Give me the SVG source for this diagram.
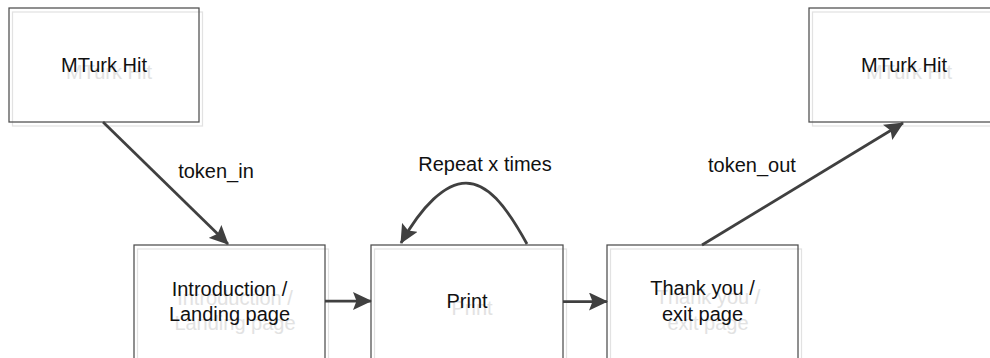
<svg xmlns="http://www.w3.org/2000/svg" width="990" height="358" viewBox="0 0 990 358">
  <style>
    .box { fill: none; stroke: #4d4d4d; stroke-width: 1.25; }
    .shadow { fill: none; stroke: #e2e2e2; stroke-width: 1.25; }
    .label { font-family: "Liberation Sans", Arial, sans-serif; font-size: 20px; fill: #111111; text-anchor: middle; }
    .ghost { font-family: "Liberation Sans", Arial, sans-serif; font-size: 20px; fill: #e2e2e2; text-anchor: middle; }
    .edge { fill: none; stroke: #404040; stroke-width: 2.75; }
  </style>
  <defs>
    <marker id="arrow" markerUnits="userSpaceOnUse" markerWidth="19" markerHeight="18" viewBox="0 0 19 18" refX="18" refY="9" orient="auto">
      <path d="M0,0 L19,9 L0,18 L3.5,9 Z" fill="#404040"/>
    </marker>
  </defs>

  <rect width="990" height="358" fill="#ffffff"/>

  <!-- each node: pale offset frame + frame, pale offset caption + caption -->
  <g id="mturk-hit-in">
    <rect class="shadow" x="12.5" y="12" width="190" height="114"/>
    <rect class="box" x="9" y="8" width="190" height="114"/>
    <text class="ghost" x="109" y="79">MTurk Hit</text>
    <text class="label" x="104" y="72">MTurk Hit</text>
  </g>

  <g id="mturk-hit-out">
    <rect class="shadow" x="812.5" y="12" width="190" height="114"/>
    <rect class="box" x="809" y="8" width="190" height="114"/>
    <text class="ghost" x="909" y="79">MTurk Hit</text>
    <text class="label" x="904" y="72">MTurk Hit</text>
  </g>

  <g id="landing">
    <rect class="shadow" x="137.5" y="249" width="191" height="120"/>
    <rect class="box" x="134" y="245" width="191" height="120"/>
    <text class="ghost" x="235" y="305">Introduction /</text>
    <text class="ghost" x="235" y="330">Landing page</text>
    <text class="label" x="229.5" y="296">Introduction /</text>
    <text class="label" x="229.5" y="321">Landing page</text>
  </g>

  <g id="print">
    <rect class="shadow" x="374.5" y="249" width="192" height="120"/>
    <rect class="box" x="371" y="245" width="192" height="120"/>
    <text class="ghost" x="472" y="315">Print</text>
    <text class="label" x="467" y="308">Print</text>
  </g>

  <g id="exit">
    <rect class="shadow" x="610.5" y="249" width="191" height="120"/>
    <rect class="box" x="607" y="245" width="191" height="120"/>
    <text class="ghost" x="708" y="304">Thank you /</text>
    <text class="ghost" x="708" y="330">exit page</text>
    <text class="label" x="702.5" y="295">Thank you /</text>
    <text class="label" x="702.5" y="321">exit page</text>
  </g>

  <g id="connectors">
    <path class="edge" d="M103,122 L228,244" marker-end="url(#arrow)"/>
    <path class="edge" d="M325,301 L371,301" marker-end="url(#arrow)"/>
    <path class="edge" d="M563,301.5 L607,301.5" marker-end="url(#arrow)"/>
    <path class="edge" d="M702,245 L903,123" marker-end="url(#arrow)"/>
    <path class="edge" d="M527,244 C505,204 487,183 466,183 C445,183 422,206 401,243" marker-end="url(#arrow)"/>
    <text class="label" x="216" y="178">token_in</text>
    <text class="label" x="752" y="172">token_out</text>
    <text class="label" x="485" y="171">Repeat x times</text>
  </g>
</svg>
